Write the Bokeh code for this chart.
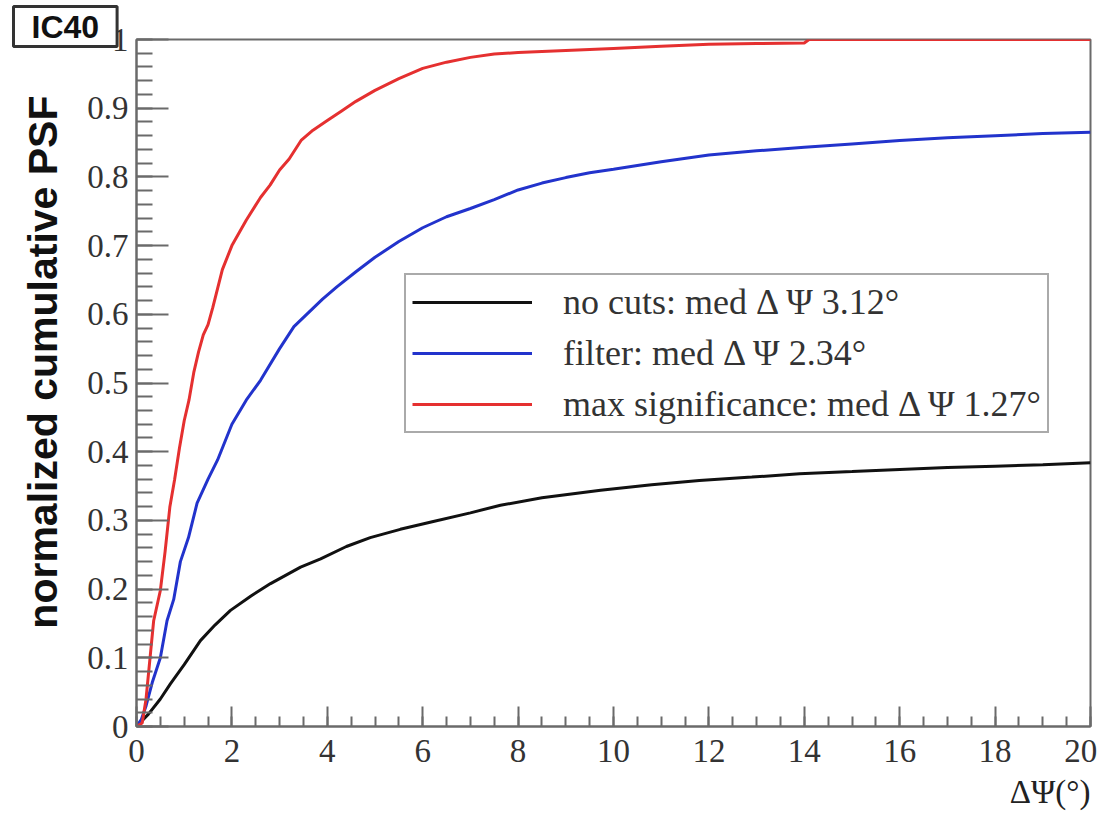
from bokeh.plotting import figure
from bokeh.models import Range1d, SingleIntervalTicker, Legend, LegendItem, Title
from bokeh.embed import file_html
from bokeh.resources import INLINE

# ---- data ----
no_cuts_x = [0, 0.25, 0.5, 0.71, 1.0, 1.34, 1.65, 1.97, 2.4, 2.81, 3.44, 3.86, 4.4, 4.9, 5.53, 6.2,
             7.0, 7.63, 8.5, 9.73, 10.8, 11.8, 12.9, 13.9, 15.0, 16.0, 17.0, 18.0, 19.0, 20.0]
no_cuts_y = [0, 0.018, 0.04, 0.062, 0.09, 0.125, 0.148, 0.169, 0.19, 0.208, 0.232, 0.244, 0.262, 0.275,
             0.287, 0.298, 0.311, 0.322, 0.333, 0.344, 0.352, 0.358, 0.363, 0.368, 0.371, 0.374, 0.377,
             0.379, 0.381, 0.384]

filter_x = [0, 0.1, 0.2, 0.33, 0.5, 0.64, 0.78, 0.92, 1.09, 1.27, 1.5, 1.7, 2.0, 2.3, 2.6, 3.0, 3.3,
            3.6, 3.9, 4.2, 4.6, 5.0, 5.5, 6.0, 6.5, 7.0, 7.5, 8.0, 8.5, 9.0, 9.5, 10.0, 11.0, 12.0,
            13.0, 14.0, 15.0, 16.0, 17.0, 18.0, 19.0, 20.0]
filter_y = [0, 0.01, 0.03, 0.064, 0.1, 0.154, 0.185, 0.24, 0.275, 0.325, 0.36, 0.388, 0.44, 0.475,
            0.504, 0.55, 0.582, 0.602, 0.622, 0.64, 0.662, 0.683, 0.706, 0.726, 0.742, 0.754, 0.767,
            0.781, 0.791, 0.799, 0.806, 0.811, 0.822, 0.832, 0.838, 0.843, 0.848, 0.853, 0.857,
            0.860, 0.863, 0.865]

maxsig_x = [0, 0.12, 0.2, 0.36, 0.5, 0.6, 0.7, 0.8, 0.9, 1.0, 1.1, 1.2, 1.3, 1.4, 1.5, 1.6, 1.8,
            2.0, 2.3, 2.6, 2.8, 3.0, 3.2, 3.45, 3.7, 4.0, 4.3, 4.6, 5.0, 5.5, 6.0, 6.5, 7.0, 7.5,
            8.0, 9.0, 10.0, 11.0, 12.0, 13.0, 14.0, 14.1, 20.0]
maxsig_y = [0, 0.005, 0.04, 0.154, 0.198, 0.255, 0.32, 0.36, 0.405, 0.445, 0.475, 0.515, 0.545,
            0.57, 0.585, 0.61, 0.665, 0.7, 0.737, 0.77, 0.788, 0.81, 0.826, 0.853, 0.868, 0.882,
            0.896, 0.91, 0.926, 0.943, 0.958, 0.967, 0.974, 0.979, 0.981, 0.984, 0.987, 0.99,
            0.993, 0.994, 0.995, 1.0, 1.0]

series_labels = ["no cuts: med \u0394 \u03a8 3.12\u00b0",
                 "filter: med \u0394 \u03a8 2.34\u00b0",
                 "max significance: med \u0394 \u03a8 1.27\u00b0"]
series_colors = ["#111111", "#2233cc", "#e53030"]

y_title = "normalized cumulative PSF"
x_title = "\u0394\u03a8(\u00b0)"
tag_text = "IC40"

SERIF = "Liberation Serif"
SANS = "Liberation Sans"
GREY = "#6a6a6a"

p = figure(width=1105, height=813, output_backend="svg", toolbar_location=None,
           x_range=Range1d(0, 20), y_range=Range1d(0, 1),
           min_border_left=136, min_border_right=15, min_border_top=39, min_border_bottom=87,
           background_fill_color="white", border_fill_color="white")
p.grid.visible = False
p.outline_line_color = GREY
p.outline_line_width = 2

# axes
p.xaxis.ticker = SingleIntervalTicker(interval=2, num_minor_ticks=4)
p.yaxis.ticker = SingleIntervalTicker(interval=0.1, num_minor_ticks=5)
for ax in (p.xaxis, p.yaxis):
    ax.axis_line_color = GREY
    ax.axis_line_width = 2
    ax.major_tick_line_color = GREY
    ax.major_tick_line_width = 2
    ax.minor_tick_line_color = GREY
    ax.minor_tick_line_width = 2
    ax.major_tick_out = 0
    ax.minor_tick_out = 0
    ax.major_label_text_font = SERIF
    ax.major_label_text_font_size = "33px"
    ax.major_label_text_color = "#333333"
p.xaxis.major_tick_in = 20
p.xaxis.minor_tick_in = 10
p.yaxis.major_tick_in = 32
p.yaxis.minor_tick_in = 16
p.xaxis.major_label_standoff = 6
p.yaxis.major_label_standoff = 8
p.yaxis.major_label_overrides = {0: "0", 1: "1"}
# last label nudged inwards (as ROOT does) with a trailing no-break space
p.xaxis.major_label_overrides = {20: "20\u00a0"}

# y title, top-aligned like the original
p.add_layout(Title(text=y_title, align="right", vertical_align="top", offset=56,
                   text_font=SANS, text_font_style="bold", text_font_size="41px",
                   text_color="#111111", standoff=33), "left")

# x title at the right end
p.add_layout(Title(text=x_title, align="right", text_font=SERIF, text_font_size="33px",
                   text_font_style="normal", text_color="#222222", standoff=0), "below")

# IC40 tag in the top-left corner
p.title.text = tag_text
p.title.align = "left"
p.title.vertical_align = "top"
p.title.offset = -123
p.title.standoff = -18
p.title.text_font = SANS
p.title.text_font_style = "bold"
p.title.text_font_size = "32px"
p.title.text_color = "#111111"
p.title.background_fill_color = "white"
p.title.border_line_color = "#333333"
p.title.border_line_width = 3
p.title.padding = dict(left=18, right=18, top=2, bottom=2)

# curves
renderers = []
for xs, ys, c in [(no_cuts_x, no_cuts_y, series_colors[0]),
                  (filter_x, filter_y, series_colors[1]),
                  (maxsig_x, maxsig_y, series_colors[2])]:
    renderers.append(p.line(xs, ys, line_color=c, line_width=3))

legend = Legend(items=[LegendItem(label=l, renderers=[r]) for l, r in zip(series_labels, renderers)],
                location=(268, 293), border_line_color="#555555", border_line_width=2,
                background_fill_color="white", background_fill_alpha=1.0,
                label_text_font=SERIF, label_text_font_size="36px", label_text_color="#333333",
                glyph_width=120, glyph_height=30, label_height=30, spacing=9, padding=6,
                margin=0, label_standoff=31)
p.add_layout(legend)

open("out.html", "w").write(file_html(p, INLINE))
